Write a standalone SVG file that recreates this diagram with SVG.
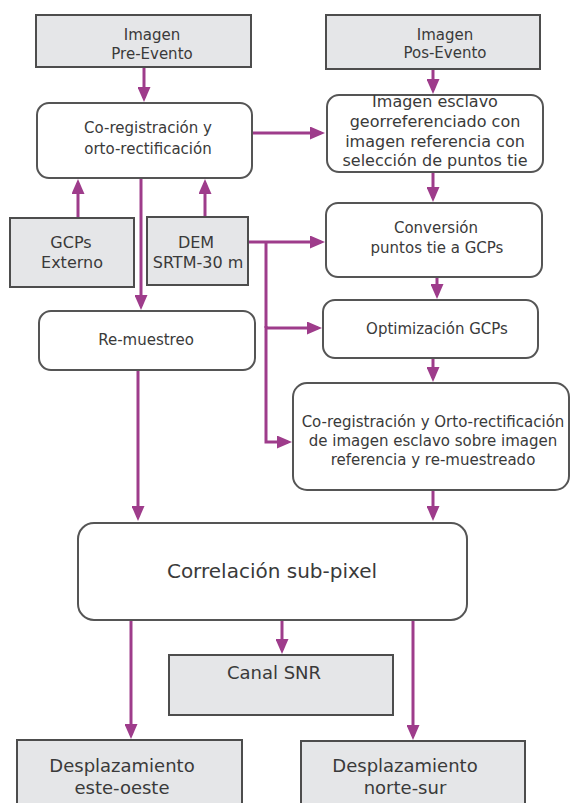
<svg xmlns="http://www.w3.org/2000/svg" width="571" height="803" viewBox="0 0 571 803">
<style>
.gray{fill:#e5e6e8;stroke:#4d4d4d;stroke-width:2}
.proc{fill:#ffffff;stroke:#555555;stroke-width:2}
text{font-family:"DejaVu Sans","Liberation Sans",sans-serif;fill:#3a3a3a;text-anchor:middle}
.f15{font-size:15px}
.f16{font-size:16px}
.f18{font-size:18px}
.f20{font-size:20px}
.conn{fill:none;stroke:#9e3c8b;stroke-width:3;marker-end:url(#ah)}
.seg{fill:none;stroke:#9e3c8b;stroke-width:3}
</style>
<defs>
<marker id="ah" markerUnits="userSpaceOnUse" markerWidth="16" markerHeight="13" refX="11" refY="6.5" orient="auto">
<path d="M0,0 L15,6.5 L0,13 Z" fill="#9e3c8b"/>
</marker>
</defs>
<rect width="571" height="803" fill="#ffffff"/>
<g id="connectors">
<path class="conn" d="M144,67 V98"/>
<path class="conn" d="M252,133 H321"/>
<path class="conn" d="M433,69 V90"/>
<path class="conn" d="M433,172 V198"/>
<path class="conn" d="M437,277 V295"/>
<path class="conn" d="M433,358 V378"/>
<path class="conn" d="M433,490 V517"/>
<path class="conn" d="M78,218 V183"/>
<path class="conn" d="M205,217 V183"/>
<path class="conn" d="M141,178 V306"/>
<path class="conn" d="M248,242 H321"/>
<path class="seg" d="M266,242 V328"/>
<path class="conn" d="M266,328 H318"/>
<path class="conn" d="M266,326 V442 H288"/>
<path class="conn" d="M138,370 V517"/>
<path class="conn" d="M282,620 V650"/>
<path class="conn" d="M131,620 V735"/>
<path class="conn" d="M413,620 V736"/>
</g>
<g id="pre">
<rect class="gray" x="36" y="15" width="215" height="52"/>
<text class="f15" x="152" y="40">Imagen</text>
<text class="f15" x="152" y="59">Pre-Evento</text>
</g>
<g id="pos">
<rect class="gray" x="326" y="15" width="214" height="54"/>
<text class="f15" x="445" y="40">Imagen</text>
<text class="f15" x="445" y="58">Pos-Evento</text>
</g>
<g id="coreg">
<rect class="proc" x="37" y="103" width="215" height="75" rx="12"/>
<text class="f15" x="148" y="133">Co-registración y</text>
<text class="f15" x="148" y="154">orto-rectificación</text>
</g>
<g id="esclavo">
<rect class="proc" x="327" y="95" width="216" height="77" rx="12"/>
<text class="f16" x="435" y="107">Imagen esclavo</text>
<text class="f16" x="435" y="127">georreferenciado con</text>
<text class="f16" x="435" y="147">imagen referencia con</text>
<text class="f16" x="435" y="166">selección de puntos tie</text>
</g>
<g id="gcps">
<rect class="gray" x="10" y="218" width="124" height="69"/>
<text class="f16" x="71" y="248">GCPs</text>
<text class="f16" x="72" y="268">Externo</text>
</g>
<g id="dem">
<rect class="gray" x="147" y="217" width="101" height="68"/>
<text class="f16" x="196" y="248">DEM</text>
<text class="f16" x="198" y="268">SRTM-30 m</text>
</g>
<g id="conversion">
<rect class="proc" x="326" y="203" width="216" height="74" rx="12"/>
<text class="f15" x="436" y="233">Conversión</text>
<text class="f15" x="437" y="253">puntos tie a GCPs</text>
</g>
<g id="optim">
<rect class="proc" x="323" y="300" width="215" height="58" rx="12"/>
<text class="f15" x="437" y="334">Optimización GCPs</text>
</g>
<g id="remuestreo">
<rect class="proc" x="39" y="311" width="216" height="59" rx="12"/>
<text class="f15" x="146" y="345">Re-muestreo</text>
</g>
<g id="coreg2">
<rect class="proc" x="293" y="383" width="276" height="107" rx="14"/>
<text class="f15" x="433" y="427">Co-registración y Orto-rectificación</text>
<text class="f15" x="433" y="446">de imagen esclavo sobre imagen</text>
<text class="f15" x="433" y="465">referencia y re-muestreado</text>
</g>
<g id="correl">
<rect class="proc" x="78" y="523" width="389" height="97" rx="16"/>
<text class="f20" x="272" y="578">Correlación sub-pixel</text>
</g>
<g id="snr">
<rect class="gray" x="169" y="655" width="224" height="60"/>
<text class="f18" x="274" y="679">Canal SNR</text>
</g>
<g id="este">
<rect class="gray" x="17" y="740" width="225" height="75"/>
<text class="f18" x="122" y="772">Desplazamiento</text>
<text class="f18" x="122" y="794">este-oeste</text>
</g>
<g id="norte">
<rect class="gray" x="301" y="741" width="224" height="75"/>
<text class="f18" x="405" y="772">Desplazamiento</text>
<text class="f18" x="405" y="794">norte-sur</text>
</g>
</svg>
